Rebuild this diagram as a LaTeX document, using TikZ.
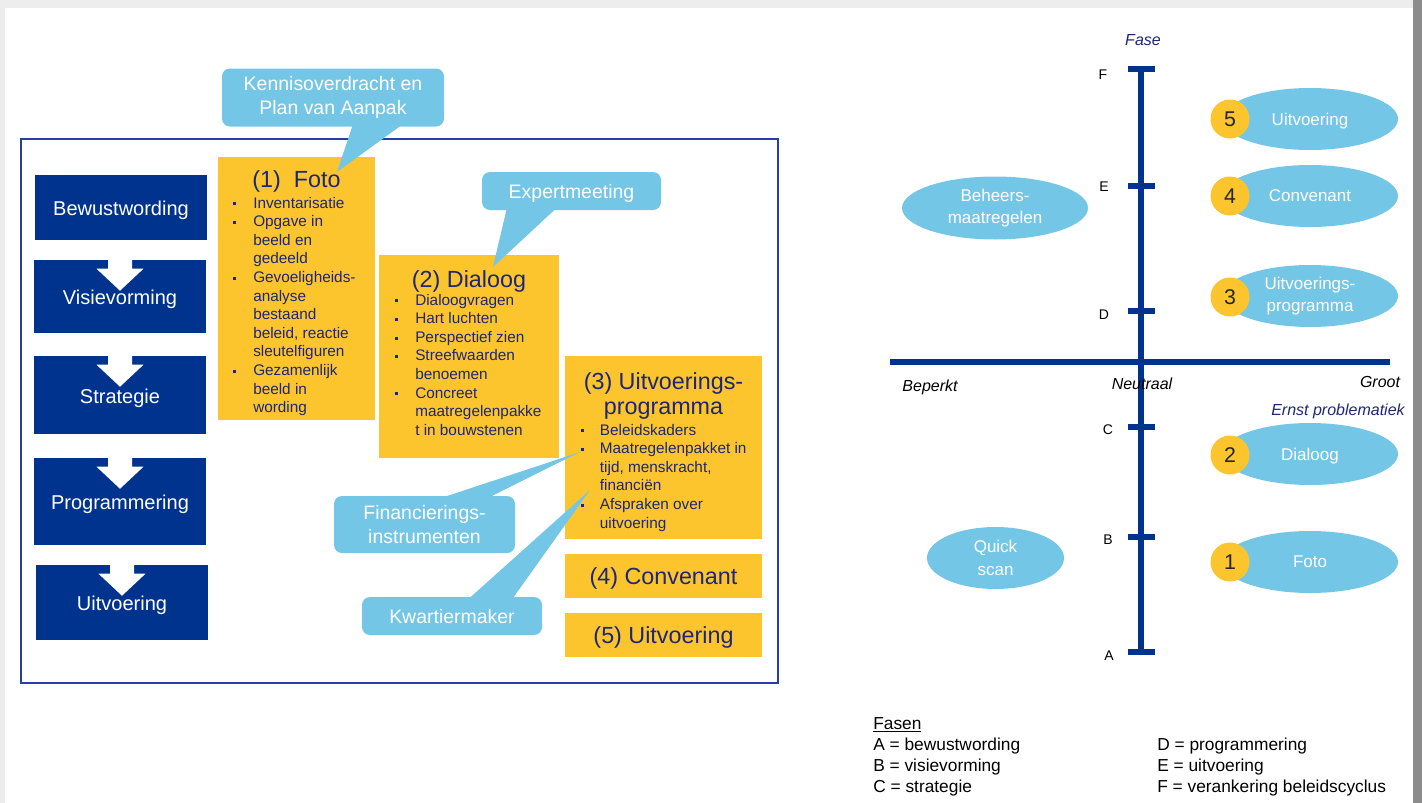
\documentclass[tikz,border=0pt]{standalone}
\usepackage{fontspec}
\setmainfont{Liberation Sans}
\usetikzlibrary{shapes.geometric}

\definecolor{phaseblue}{RGB}{0,51,141}
\definecolor{stepyellow}{RGB}{252,197,46}
\definecolor{calloutblue}{RGB}{116,198,230}
\definecolor{inkblue}{RGB}{30,38,118}
\definecolor{frameblue}{RGB}{40,62,160}

\newcommand{\listdot}{\raisebox{2pt}{\rule{2.2pt}{2.2pt}}}

\begin{document}
\begin{tikzpicture}[x=0.75pt,y=-0.75pt]

      \tikzset{phase/.style={fill=phaseblue, text=white, inner sep=0pt, minimum width=129pt, text height=12.5pt, text depth=0pt, font=\fontsize{15}{17}\selectfont},
               stepbox/.style={fill=stepyellow, inner sep=0pt, minimum width=147.75pt, minimum height=33pt, text depth=0pt, text=inkblue, font=\fontsize{17.5}{19}\selectfont},
               steptitle/.style={text=inkblue, inner sep=0pt, font=\fontsize{17.5}{19}\selectfont},
               bullets/.style={text=inkblue, inner sep=0pt, font=\fontsize{11.5}{13.95}\selectfont},
               tipbox/.style={fill=calloutblue, text=white, rounded corners=6pt, inner sep=0pt, align=center, minimum height=28.5pt, font=\fontsize{14.6}{18.4}\selectfont},
               pointer/.style={fill=calloutblue},
               blob/.style={ellipse, fill=calloutblue, text=white, inner sep=0pt, align=center, minimum width=132pt, minimum height=46.5pt, font=\fontsize{12.75}{16.9}\selectfont},
               badge/.style={circle, fill=stepyellow, inner sep=0pt, minimum size=29.25pt, text=black!85, font=\fontsize{16}{16}\selectfont},
               scaleline/.style={draw=phaseblue, line width=4.1pt},
               axistick/.style={draw=phaseblue, line width=4pt},
               letter/.style={inner sep=0pt, font=\fontsize{10.5}{12}\selectfont},
               caption/.style={inner sep=0pt, font=\fontsize{12}{14}\selectfont\itshape},
               legend/.style={inner sep=0pt, font=\fontsize{13}{15.75}\selectfont}}

      \useasboundingbox (0,0) rectangle (1422,803);
%% Page edge
      \fill[black!7] (0,0) rectangle (1422,8);
      \fill[black!7] (0,0) rectangle (5,803);
      \fill[black!45] (1413,0) rectangle (1422,803);
      \draw[frameblue, line width=1.2pt] (21,139) rectangle (778,683);

%% Phases
      \node[phase, minimum height=48.75pt] (bewust) at (121,207.5) {Bewustwording};
      \node[phase, minimum height=54.75pt] (visie) at (120,296.5) {Visievorming};
      \node[phase, minimum height=58.5pt] (strat) at (120,395) {Strategie};
      \node[phase, minimum height=65.25pt] (progr) at (120,501.5) {Programmering};
      \node[phase, minimum height=56.25pt] (uitv) at (122,602.5) {Uitvoering};
      \foreach \b in {visie,strat,progr,uitv}
        \fill[white] ([xshift=-9pt]\b.north) -- ([xshift=-9pt,yshift=-6.75pt]\b.north) -- ([xshift=-17.6pt,yshift=-6.75pt]\b.north)
          -- ([yshift=-23.25pt]\b.north) -- ([xshift=17.6pt,yshift=-6.75pt]\b.north) -- ([xshift=9pt,yshift=-6.75pt]\b.north)
          -- ([xshift=9pt]\b.north) -- cycle;

%% Steps
      \node[stepbox, minimum width=117.75pt, minimum height=197.25pt] (foto) at (296.5,288.5) {};
      \node[stepbox, minimum width=135pt, minimum height=152.25pt] (dialoog) at (469,356.5) {};
      \node[stepbox, minimum height=137.25pt] (programma) at (663.5,447.5) {};
      \node[stepbox] (convenant) at (663.5,576) {(4) Convenant};
      \node[stepbox] (uitvoering) at (663.5,635) {(5) Uitvoering};

      \node[steptitle, anchor=base] (fototitle) at (296.5,187) {(1)\ \ Foto};
      \node[steptitle, anchor=base] (dialoogtitle) at (469,287) {(2) Dialoog};
      \node[steptitle, anchor=base] (programmatitle) at (663.5,389) {(3) Uitvoerings-};
      \node[steptitle, anchor=base] (programmatitleb) at (663.5,414) {programma};

      \node[bullets, anchor=base west] (fotolist) at (233,208) {\begin{tabular}[t]{@{}p{15pt}@{}l@{}}
        \listdot & Inventarisatie\\
        \listdot & Opgave in\\ & beeld en\\ & gedeeld\\
        \listdot & Gevoeligheids-\\ & analyse\\ & bestaand\\ & beleid, reactie\\ & sleutelfiguren\\
        \listdot & Gezamenlijk\\ & beeld in\\ & wording
      \end{tabular}};
      \node[bullets, anchor=base west] (dialooglist) at (395,305) {\begin{tabular}[t]{@{}p{15pt}@{}l@{}}
        \listdot & Dialoogvragen\\
        \listdot & Hart luchten\\
        \listdot & Perspectief zien\\
        \listdot & Streefwaarden\\ & benoemen\\
        \listdot & Concreet\\ & maatregelenpakke\\ & t in bouwstenen
      \end{tabular}};
      \node[bullets, anchor=base west] (programmalist) at (581,435) {\begin{tabular}[t]{@{}p{14pt}@{}l@{}}
        \listdot & Beleidskaders\\
        \listdot & Maatregelenpakket in\\ & tijd, menskracht,\\ & financiën\\
        \listdot & Afspraken over\\ & uitvoering
      \end{tabular}};

%Callouts
      \node[tipbox, minimum width=166.5pt, minimum height=43.5pt] (kennis) at (333,97.5) {Kennisoverdracht en\\Plan van Aanpak};
      \node[tipbox, minimum width=134.25pt, text depth=0pt] (expert) at (571.5,191) {Expertmeeting};
      \node[tipbox, minimum width=135.75pt, minimum height=42.75pt] (financ) at (424.5,524.5) {Financierings-\\instrumenten};
      \node[tipbox, minimum width=135pt, text depth=0pt] (kwartier) at (452,616) {Kwartiermaker};

      \coordinate (kennistip) at (337,172);
      \coordinate (experttip) at (493,267);
      \coordinate (financtip) at (580,452);
      \coordinate (kwartiertip) at (590,490);
      \fill[pointer] ([xshift=15pt,yshift=2pt]kennis.south) -- (kennistip) -- ([xshift=52.5pt,yshift=2pt]kennis.south) -- cycle;
      \fill[pointer] ([xshift=-48.4pt,yshift=2pt]expert.south) -- (experttip) -- ([xshift=-10.9pt,yshift=2pt]expert.south) -- cycle;
      \fill[pointer] ([xshift=11.6pt,yshift=-2pt]financ.north) -- (financtip) -- ([xshift=46.9pt,yshift=-2pt]financ.north) -- cycle;
      \fill[pointer] ([xshift=12pt,yshift=-2pt]kwartier.north) -- (kwartiertip) -- ([xshift=45pt,yshift=-2pt]kwartier.north) -- cycle;

%% Chart
      \draw[scaleline] (890,362) -- (1390,362);
      \draw[scaleline] (1141,69) -- (1141,652);
      \foreach \y in {69,186,311,427,537,652}
        \draw[axistick] (1128,\y) -- (1155,\y);

      \node[letter] (lF) at (1103,75) {F};
      \node[letter] (lE) at (1104,187) {E};
      \node[letter] (lD) at (1104,315) {D};
      \node[letter] (lC) at (1108,430) {C};
      \node[letter] (lB) at (1108,540) {B};
      \node[letter] (lA) at (1109,656) {A};

      \node[caption, text=inkblue] (fase) at (1143,40) {Fase};
      \node[caption] (beperkt) at (930,387) {Beperkt};
      \node[caption] (neutraal) at (1142,384) {Neutraal};
      \node[caption] (groot) at (1380,382) {Groot};
      \node[caption, text=inkblue] (ernst) at (1338,411) {Ernst problematiek};

      \node[blob, minimum width=139.5pt, minimum height=47.25pt] (beheer) at (995,208) {Beheers-\\maatregelen};
      \node[blob, minimum width=102.75pt] (quick) at (995.5,558) {Quick\\scan};
      \node[blob, text depth=0pt] (e5) at (1310,119) {Uitvoering};
      \node[blob, text depth=0pt] (e4) at (1310,196) {Convenant};
      \node[blob] (e3) at (1310,296) {Uitvoerings-\\programma};
      \node[blob, text depth=0pt] (e2) at (1310,454) {Dialoog};
      \node[blob, text depth=0pt] (e1) at (1310,562) {Foto};
      \node[badge] (n5) at (1230,119) {5};
      \node[badge] (n4) at (1230,196) {4};
      \node[badge] (n3) at (1230,297) {3};
      \node[badge] (n2) at (1230,455) {2};
      \node[badge] (n1) at (1230,562) {1};

%% Legend
      \node[legend, anchor=base west] (fasen) at (873,729) {\begin{tabular}[t]{@{}l@{}}
        \underline{Fasen}\\ A = bewustwording\\ B = visievorming\\ C = strategie
      \end{tabular}};
      \node[legend, anchor=base west] (fasenb) at (1157,750) {\begin{tabular}[t]{@{}l@{}}
        D = programmering\\ E = uitvoering\\ F = verankering beleidscyclus
      \end{tabular}};

\end{tikzpicture}
\end{document}
